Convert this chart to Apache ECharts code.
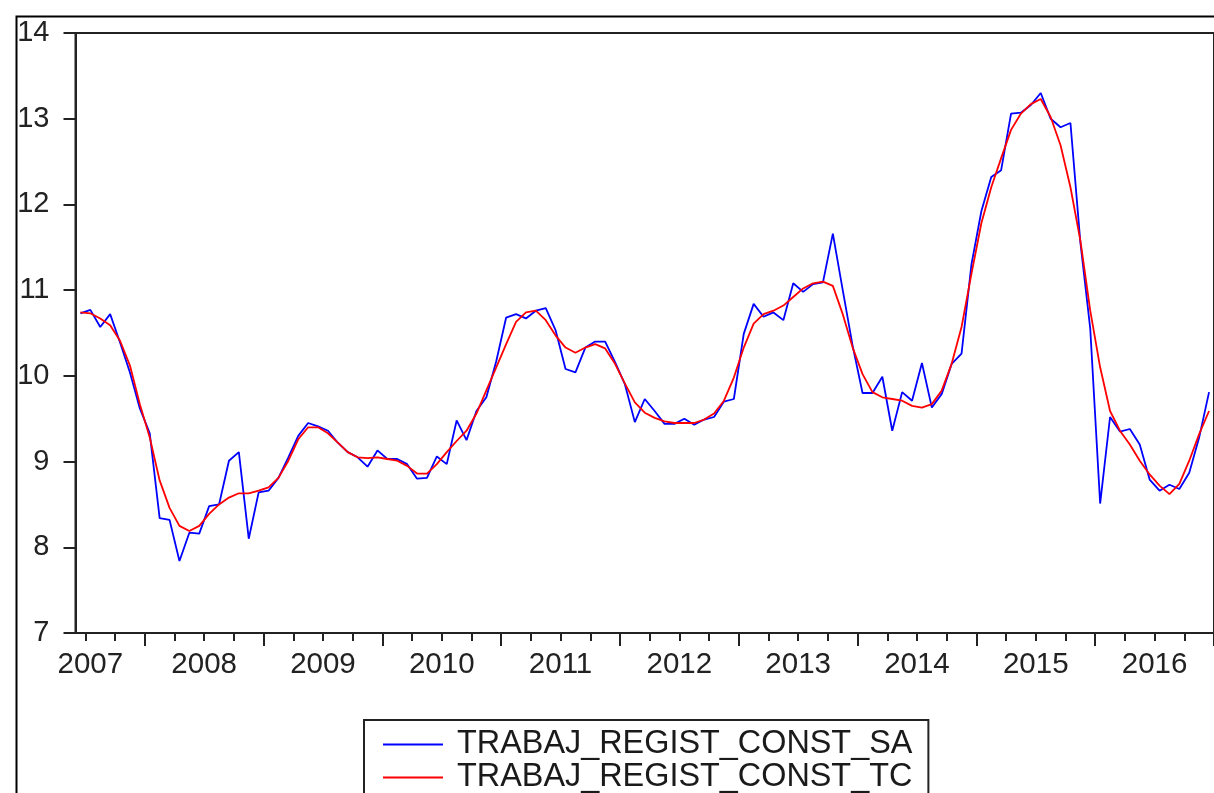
<!DOCTYPE html>
<html><head><meta charset="utf-8">
<script src="https://cdn.jsdelivr.net/npm/echarts@6/dist/echarts.min.js"></script>
<style>html,body{margin:0;padding:0;background:#fff}#c{width:1214px;height:793px}</style>
</head><body><div id="c"></div>
<script>
// ---- data ----
const seriesNames = ['TRABAJ_REGIST_CONST_SA', 'TRABAJ_REGIST_CONST_TC'];
const startYear = 2007, startMonth = 6, nObs = 115;   // monthly, 2007M06 .. 2016M12
const yearLabels = ['2007','2008','2009','2010','2011','2012','2013','2014','2015','2016'];
const yTickValues = [7, 8, 9, 10, 11, 12, 13, 14];

const saValues = [
  10.73,10.77,10.57,10.72,10.39,10.04,9.62,9.33,8.34,8.32,
  7.84,8.17,8.16,8.48,8.50,9.01,9.11,8.10,8.64,8.66,
  8.81,9.05,9.30,9.45,9.41,9.36,9.22,9.11,9.05,8.94,
  9.13,9.03,9.03,8.97,8.80,8.81,9.06,8.97,9.48,9.25,
  9.59,9.75,10.17,10.68,10.72,10.67,10.76,10.79,10.53,10.08,
  10.04,10.33,10.40,10.40,10.16,9.90,9.46,9.73,9.59,9.44,
  9.44,9.50,9.43,9.49,9.52,9.70,9.73,10.49,10.84,10.69,
  10.74,10.65,11.08,10.98,11.07,11.09,11.66,11.00,10.35,9.80,
  9.80,9.99,9.36,9.81,9.71,10.15,9.63,9.79,10.14,10.26,
  11.30,11.92,12.32,12.40,13.06,13.07,13.16,13.30,13.00,12.90,
  12.95,11.56,10.55,8.51,9.52,9.35,9.38,9.20,8.79,8.66,
  8.73,8.68,8.87,9.28,9.81
];
const tcValues = [
  10.74,10.73,10.67,10.59,10.41,10.12,9.67,9.28,8.78,8.46,
  8.25,8.19,8.25,8.39,8.50,8.58,8.63,8.63,8.66,8.70,
  8.81,9.01,9.26,9.40,9.40,9.33,9.22,9.11,9.05,9.04,
  9.05,9.03,9.01,8.95,8.86,8.86,8.97,9.11,9.24,9.36,
  9.56,9.83,10.10,10.37,10.63,10.74,10.76,10.65,10.47,10.33,
  10.27,10.33,10.37,10.32,10.14,9.91,9.69,9.57,9.51,9.47,
  9.45,9.45,9.45,9.49,9.56,9.71,9.98,10.33,10.61,10.72,
  10.76,10.82,10.92,11.02,11.08,11.10,11.05,10.72,10.33,10.02,
  9.81,9.75,9.73,9.71,9.65,9.63,9.67,9.83,10.14,10.57,
  11.19,11.78,12.20,12.54,12.87,13.06,13.17,13.23,13.02,12.69,
  12.20,11.58,10.76,10.10,9.59,9.36,9.20,9.01,8.85,8.72,
  8.62,8.74,9.01,9.32,9.59
];

// monthly category labels
const months = [];
for (let k = 0; k < nObs; k++) {
  const m = startMonth - 1 + k;
  const y = startYear + Math.floor(m / 12);
  const mm = (m % 12) + 1;
  months.push(y + 'M' + (mm < 10 ? '0' + mm : mm));
}

const FONT = '"Liberation Sans", Arial, sans-serif';
const AX = '#222';

const chart = echarts.init(document.getElementById('c'), null, {renderer: 'canvas'});
chart.setOption({
  animation: false,
  backgroundColor: '#ffffff',
  grid: {
    left: 75.5, right: -3.5, top: 33, bottom: 160,
    show: true, borderColor: AX, borderWidth: 2, backgroundColor: 'transparent'
  },
  legend: {
    orient: 'vertical',
    left: 364, top: 720, width: 700, height: 200,
    padding: [8, 16, 30, 19],
    borderColor: AX, borderWidth: 2,
    itemWidth: 60, itemHeight: 2, itemGap: 0,
    icon: 'rect',
    data: seriesNames,
    textStyle: {fontFamily: FONT, fontSize: 32.4, color: '#1a1a1a', lineHeight: 33, padding: [0, 0, 0, 9]}
  },
  xAxis: [{
    type: 'category',
    data: months,
    boundaryGap: true,
    position: 'bottom',
    axisLine: {show: true, lineStyle: {color: AX, width: 2}},
    axisTick: {
      show: true, inside: false, length: 8,
      interval: (i, v) => /M(01|04|07|10)$/.test(v),
      lineStyle: {color: AX, width: 2}
    },
    axisLabel: {
      show: true, margin: 17,
      interval: (i, v) => v.endsWith('M07'),
      formatter: (v) => {
        const y = v.slice(0, 4);
        return yearLabels.indexOf(y) === 0 ? '{a|' + y + '}' : '{b|' + y + '}';
      },
      rich: {
        a: {fontFamily: FONT, fontSize: 29.5, color: AX},
        b: {fontFamily: FONT, fontSize: 29.5, color: AX, padding: [0, 10, 0, 0]}
      }
    },
    splitLine: {show: false}
  }, {
    type: 'category',
    data: months,
    boundaryGap: true,
    position: 'bottom',
    axisLine: {show: false},
    axisTick: {
      show: true, inside: false, length: 13,
      interval: (i, v) => /M01$/.test(v),
      lineStyle: {color: AX, width: 2}
    },
    axisLabel: {show: false},
    splitLine: {show: false}
  }],
  yAxis: {
    type: 'value',
    min: yTickValues[0], max: yTickValues[yTickValues.length - 1], interval: 1,
    axisLine: {show: true, lineStyle: {color: AX, width: 2}},
    axisTick: {show: true, inside: false, length: 12, lineStyle: {color: AX, width: 2}},
    axisLabel: {fontFamily: FONT, fontSize: 29, color: AX, margin: 26},
    splitLine: {show: false}
  },
  series: [{
    name: seriesNames[0], type: 'line', data: saValues,
    xAxisIndex: 0, yAxisIndex: 0,
    showSymbol: false, symbol: 'none',
    lineStyle: {color: '#0000ff', width: 1.8},
    itemStyle: {color: '#0000ff'}
  }, {
    name: seriesNames[1], type: 'line', data: tcValues,
    xAxisIndex: 0, yAxisIndex: 0,
    showSymbol: false, symbol: 'none',
    lineStyle: {color: '#ff0000', width: 1.8},
    itemStyle: {color: '#ff0000'}
  }],
  graphic: [{
    type: 'rect', left: 14, top: 14, z: 100, silent: true,
    shape: {x: 0, y: 0, width: 1400, height: 1000},
    style: {fill: 'none', stroke: '#000', lineWidth: 2}
  }]
});
</script>
</body></html>
